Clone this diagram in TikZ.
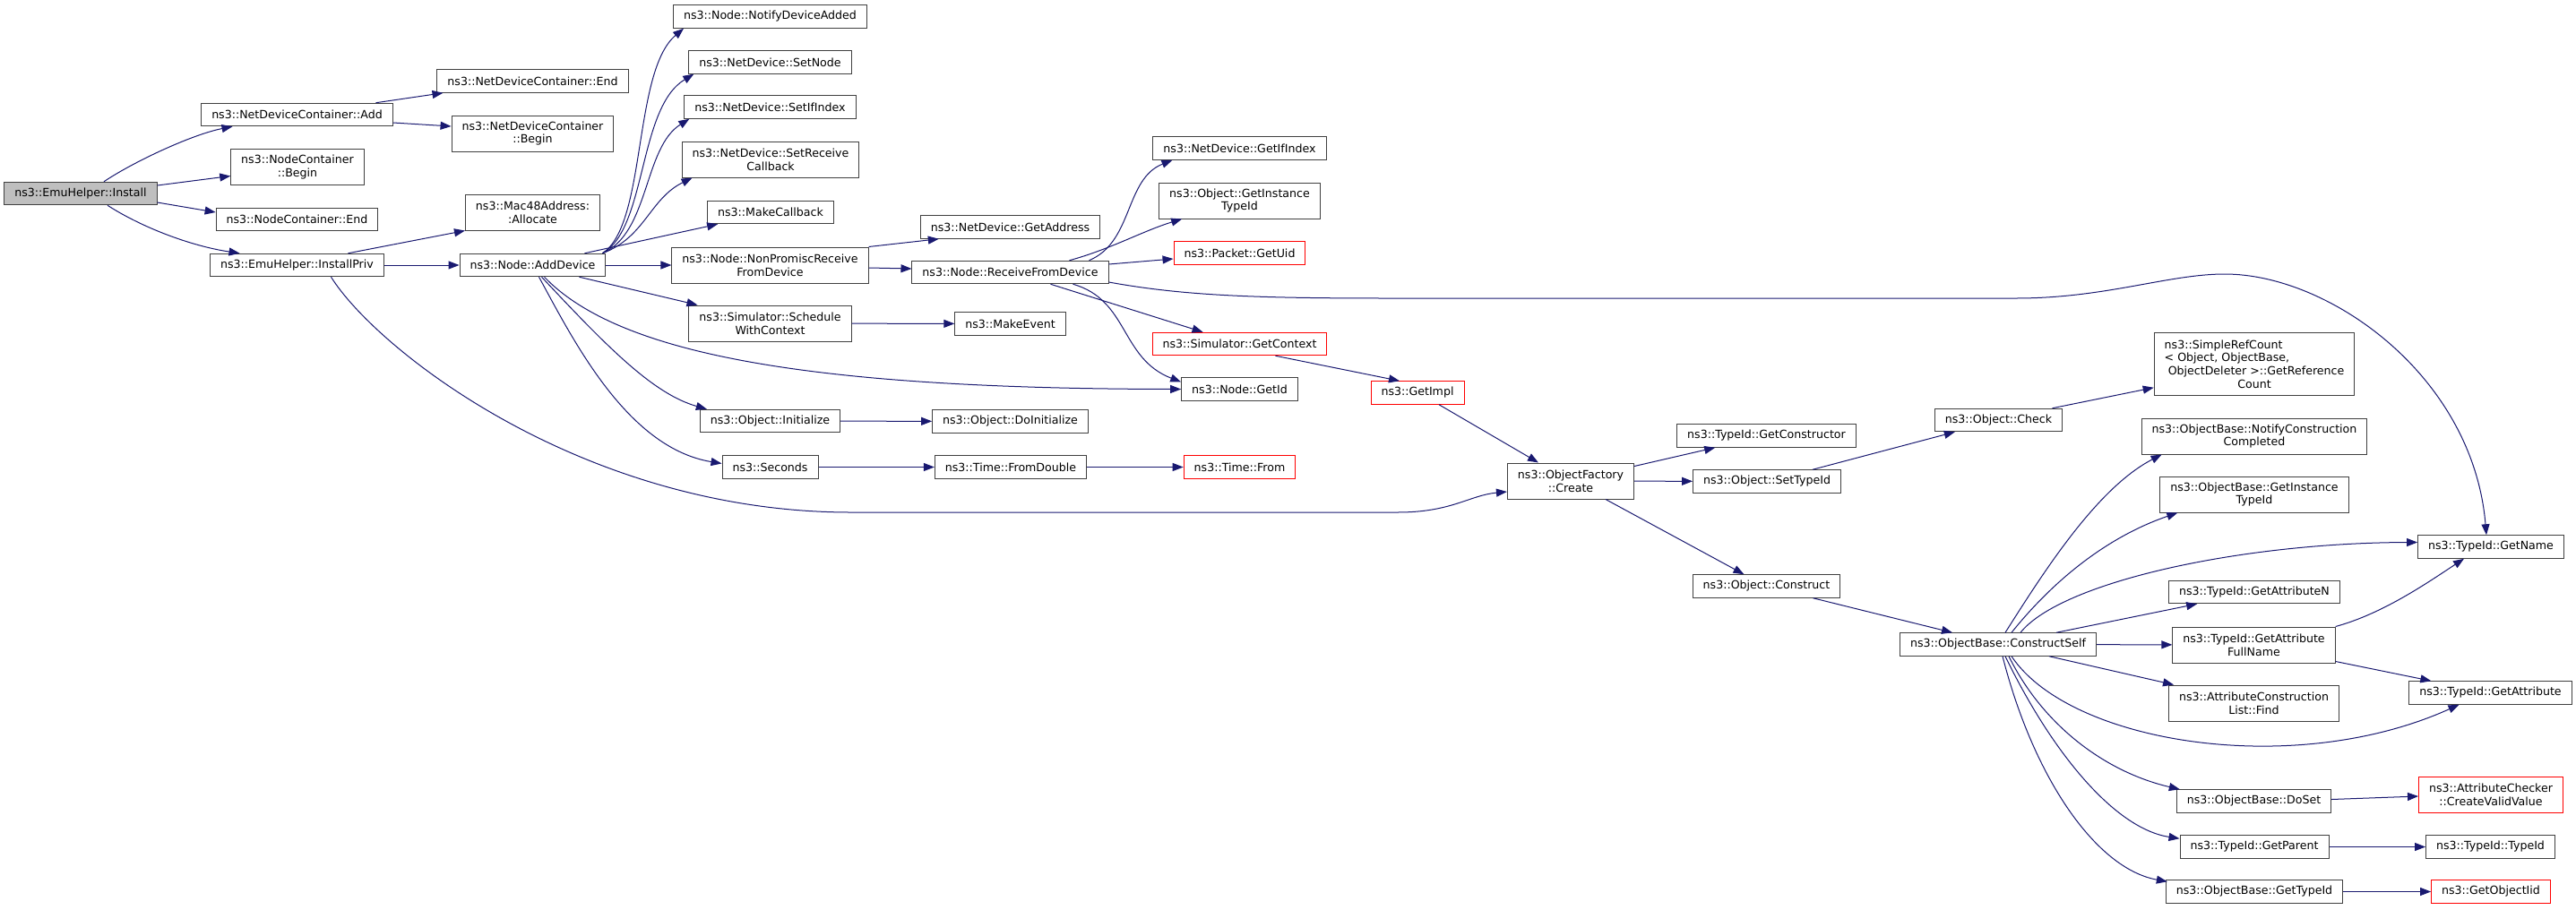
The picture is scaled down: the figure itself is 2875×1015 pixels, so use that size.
\documentclass[tikz,border=0pt]{standalone}
\usepackage{fontspec}
\setmainfont{DejaVu Sans}
\usepackage{xcolor}
\usepackage{tikz}
\usetikzlibrary{arrows.meta,calc}

\definecolor{callblue}{HTML}{191970}
\definecolor{boxline}{HTML}{404040}
\definecolor{rootgray}{HTML}{BFBFBF}
\definecolor{cutred}{HTML}{FF0000}

\begin{document}
\begin{tikzpicture}[x=1pt,y=-1pt,
    fn/.style={draw=boxline, fill=white, line width=1pt, align=center,
      inner xsep=11.5pt, inner ysep=0pt, minimum height=25.5pt,
      font=\fontsize{12.6}{14.7}\selectfont},
    tall/.style={minimum height=40pt},
    cutfn/.style={draw=cutred},
    rootfn/.style={fill=rootgray},
    call/.style={draw=callblue, line width=1pt, -{Triangle[length=12pt,width=9pt]}}]

    \useasboundingbox (0,0) rectangle (2875,1015);

    % Caller and first level
    \node[fn, rootfn] (install) at (90,216) {ns3::EmuHelper::Install};
    \node[fn] (ndcAdd) at (331.5,128) {ns3::NetDeviceContainer::Add};
    \node[fn, tall] (ncBegin) at (332,186.5) {ns3::NodeContainer\\::Begin};
    \node[fn] (ncEnd) at (331.5,245) {ns3::NodeContainer::End};
    \node[fn] (installPriv) at (331.5,296) {ns3::EmuHelper::InstallPriv};

    % Containers, address, AddDevice
    \node[fn] (ndcEnd) at (594.5,90.5) {ns3::NetDeviceContainer::End};
    \node[fn, tall] (ndcBegin) at (594.5,149) {ns3::NetDeviceContainer\\::Begin};
    \node[fn, tall] (macAlloc) at (594.5,237) {ns3::Mac48Address:\\:Allocate};
    \node[fn] (addDev) at (594.5,296) {ns3::Node::AddDevice};

    % Called from AddDevice
    \node[fn] (notify) at (859.5,18.5) {ns3::Node::NotifyDeviceAdded};
    \node[fn] (setNode) at (859.5,69.5) {ns3::NetDevice::SetNode};
    \node[fn] (setIf) at (859.5,119.5) {ns3::NetDevice::SetIfIndex};
    \node[fn, tall] (setRecv) at (860,178) {ns3::NetDevice::SetReceive\\Callback};
    \node[fn] (makeCb) at (860,237) {ns3::MakeCallback};
    \node[fn, tall] (nonPromisc) at (859.5,296) {ns3::Node::NonPromiscReceive\\FromDevice};
    \node[fn, tall] (schedule) at (859.5,361) {ns3::Simulator::Schedule\\WithContext};
    \node[fn] (init) at (859.5,470) {ns3::Object::Initialize};
    \node[fn] (seconds) at (859.5,521.5) {ns3::Seconds};

    % Next level
    \node[fn] (getAddr) at (1127.5,253.5) {ns3::NetDevice::GetAddress};
    \node[fn] (recvFrom) at (1127.5,304) {ns3::Node::ReceiveFromDevice};
    \node[fn] (makeEvent) at (1127.5,361.5) {ns3::MakeEvent};
    \node[fn] (doInit) at (1127.5,470.5) {ns3::Object::DoInitialize};
    \node[fn] (fromDouble) at (1128,521.5) {ns3::Time::FromDouble};

    % Called from ReceiveFromDevice
    \node[fn] (getIf) at (1383.5,165.5) {ns3::NetDevice::GetIfIndex};
    \node[fn, tall] (getInst) at (1383.5,224) {ns3::Object::GetInstance\\TypeId};
    \node[fn, cutfn] (getUid) at (1383.5,282.5) {ns3::Packet::GetUid};
    \node[fn, cutfn] (getCtx) at (1383.5,384) {ns3::Simulator::GetContext};
    \node[fn] (getIdN) at (1383.5,434.5) {ns3::Node::GetId};
    \node[fn, cutfn] (timeFrom) at (1383.5,521.5) {ns3::Time::From};

    % Factory
    \node[fn, cutfn] (getImpl) at (1582,438.5) {ns3::GetImpl};
    \node[fn, tall] (create) at (1753,537) {ns3::ObjectFactory\\::Create};
    \node[fn] (getCtor) at (1971.5,486.5) {ns3::TypeId::GetConstructor};
    \node[fn] (setTid) at (1972,537.5) {ns3::Object::SetTypeId};
    \node[fn] (construct) at (1971.5,654.5) {ns3::Object::Construct};
    \node[fn] (check) at (2230.5,469) {ns3::Object::Check};
    \node[fn] (constructSelf) at (2230,719.5) {ns3::ObjectBase::ConstructSelf};

    % Called from ConstructSelf
    \node[fn, minimum height=69.5pt] (simpleRef) at (2516,406.5)
      {\rlap{ns3::SimpleRefCount}\phantom{\ ObjectDeleter >::GetReference}\\
       \rlap{< Object, ObjectBase,}\phantom{\ ObjectDeleter >::GetReference}\\
       \hspace*{0.32em}ObjectDeleter >::GetReference\\Count};
    \node[fn, tall] (notifyCons) at (2516,487) {ns3::ObjectBase::NotifyConstruction\\Completed};
    \node[fn, tall] (obGetInst) at (2516,552) {ns3::ObjectBase::GetInstance\\TypeId};
    \node[fn] (getAttrN) at (2516,661) {ns3::TypeId::GetAttributeN};
    \node[fn, tall] (attrFull) at (2515.5,720) {ns3::TypeId::GetAttribute\\FullName};
    \node[fn, tall] (listFind) at (2515.5,785) {ns3::AttributeConstruction\\List::Find};
    \node[fn] (doSet) at (2515.5,894.5) {ns3::ObjectBase::DoSet};
    \node[fn] (getParent) at (2516,945.5) {ns3::TypeId::GetParent};
    \node[fn] (getTid) at (2516,995.5) {ns3::ObjectBase::GetTypeId};

    % Last column
    \node[fn] (getName) at (2780,610.5) {ns3::TypeId::GetName};
    \node[fn] (getAttr) at (2779.5,773.5) {ns3::TypeId::GetAttribute};
    \node[fn, tall, cutfn] (createValid) at (2780,887) {ns3::AttributeChecker\\::CreateValidValue};
    \node[fn] (tidTid) at (2779.5,945.5) {ns3::TypeId::TypeId};
    \node[fn, cutfn] (getIid) at (2780,995.5) {ns3::GetObjectIid};

    % Calls from Install
    \draw[call] ($(install.north)+(26,0)$) .. controls (150,180) and (215,150) .. ($(ndcAdd.south)+(-72,0)$);
    \draw[call] ($(install.east)+(0,-9)$) -- ($(ncBegin.west)+(0,10)$);
    \draw[call] ($(install.east)+(0,10)$) -- ($(ncEnd.west)+(0,-8)$);
    \draw[call] ($(install.south)+(30,0)$) .. controls (160,255) and (215,275) .. ($(installPriv.north)+(-64,0)$);
    \draw[call] ($(ndcAdd.north)+(88,0)$) -- ($(ndcEnd.south)+(-100,0)$);
    \draw[call] ($(ndcAdd.east)+(0,9)$) -- ($(ndcBegin.west)+(0,-8)$);

    % Calls from InstallPriv
    \draw[call] ($(installPriv.north)+(57,0)$) -- (macAlloc.south west);
    \draw[call] (installPriv) -- (addDev);
    \draw[call] ($(installPriv.south)+(38,0)$) .. controls (420,390) and (650,572) .. (950,572)
      -- (1560,572) .. controls (1620,572) and (1640,553) .. ($(create.west)+(0,12)$);

    % Calls from AddDevice
    \draw[call] ($(addDev.north east)+(-4,0)$) .. controls (722,250) and (706,80) .. ($(notify.south west)+(12,0)$);
    \draw[call] ($(addDev.north east)+(-4,0)$) .. controls (722,255) and (712,120) .. ($(setNode.south west)+(6,0)$);
    \draw[call] ($(addDev.north east)+(-4,0)$) .. controls (725,260) and (718,165) .. ($(setIf.south west)+(6,0)$);
    \draw[call] ($(addDev.north east)+(-4,0)$) .. controls (720,265) and (725,222) .. ($(setRecv.south west)+(12,0)$);
    \draw[call] ($(addDev.north)+(58,0)$) -- ($(makeCb.south west)+(12,0)$);
    \draw[call] (addDev) -- (nonPromisc);
    \draw[call] ($(addDev.south)+(52,0)$) -- ($(schedule.north west)+(10,0)$);
    \draw[call] ($(addDev.south)+(13,0)$) .. controls (690,395) and (900,434) .. (getIdN.west);
    \draw[call] ($(addDev.south)+(10,0)$) .. controls (680,390) and (730,440) .. ($(init.north west)+(8,0)$);
    \draw[call] ($(addDev.south)+(7,0)$) .. controls (640,380) and (700,500) .. ($(seconds.west)+(0,-4)$);

    \draw[call] (nonPromisc.north east) -- ($(getAddr.south west)+(21,0)$);
    \draw[call] ($(nonPromisc.east)+(0,3)$) -- ($(recvFrom.west)+(0,-4)$);
    \draw[call] (schedule) -- (makeEvent);
    \draw[call] (init) -- (doInit);
    \draw[call] (seconds) -- (fromDouble);
    \draw[call] (fromDouble) -- (timeFrom);

    % Calls from ReceiveFromDevice
    \draw[call] ($(recvFrom.north)+(88,0)$) .. controls (1265,270) and (1255,200) .. ($(getIf.south west)+(22,0)$);
    \draw[call] ($(recvFrom.north)+(66,0)$) .. controls (1240,278) and (1275,258) .. ($(getInst.south west)+(26,0)$);
    \draw[call] ($(recvFrom.east)+(0,-9)$) -- ($(getUid.west)+(0,6.5)$);
    \draw[call] ($(recvFrom.east)+(0,11)$) .. controls (1320,330) and (1400,333) .. (1550,333)
      -- (2250,333) .. controls (2350,333) and (2420,306) .. (2483,306)
      .. controls (2600,306) and (2760,420) .. ($(getName.north)+(-5,0)$);
    \draw[call] ($(recvFrom.south)+(45,0)$) -- ($(getCtx.north west)+(57,0)$);
    \draw[call] ($(recvFrom.south)+(70,0)$) .. controls (1260,335) and (1250,400) .. ($(getIdN.west)+(0,-8)$);

    % Object creation
    \draw[call] ($(getCtx.south)+(40,0)$) -- ($(getImpl.north)+(-20,0)$);
    \draw[call] ($(getImpl.south)+(24,0)$) -- ($(create.north)+(-36,0)$);
    \draw[call] ($(create.north east)+(0,4)$) -- ($(getCtor.south west)+(43,0)$);
    \draw[call] (create) -- (setTid);
    \draw[call] ($(create.south)+(39,0)$) -- ($(construct.north)+(-25,0)$);
    \draw[call] ($(setTid.north)+(51,0)$) -- ($(check.south west)+(23,0)$);
    \draw[call] ($(check.north)+(60,0)$) -- ($(simpleRef.south west)+(0,-9)$);
    \draw[call] ($(construct.south)+(52,0)$) -- ($(constructSelf.north)+(-51,0)$);

    % Calls from ConstructSelf
    \draw[call] ($(constructSelf.north)+(8,0)$) .. controls (2280,640) and (2340,545) .. ($(notifyCons.south west)+(23,0)$);
    \draw[call] ($(constructSelf.north)+(15,0)$) .. controls (2290,650) and (2350,600) .. ($(obGetInst.south west)+(20,0)$);
    \draw[call] ($(constructSelf.north)+(25,0)$) .. controls (2300,650) and (2500,606) .. ($(getName.west)+(0,-5)$);
    \draw[call] ($(constructSelf.north)+(65,0)$) -- ($(getAttrN.south west)+(32,0)$);
    \draw[call] (constructSelf) -- (attrFull);
    \draw[call] ($(constructSelf.south)+(57,0)$) -- ($(listFind.north west)+(6,0)$);
    \draw[call] ($(constructSelf.south)+(15,0)$) .. controls (2310,830) and (2560,870) .. ($(getAttr.south)+(-35,0)$);
    \draw[call] ($(constructSelf.south)+(12,0)$) .. controls (2280,810) and (2350,862) .. ($(doSet.north west)+(4,0)$);
    \draw[call] ($(constructSelf.south)+(8,0)$) .. controls (2290,840) and (2360,925) .. ($(getParent.north west)+(0,4)$);
    \draw[call] ($(constructSelf.south)+(5,0)$) .. controls (2270,870) and (2340,970) .. ($(getTid.north west)+(2,2)$);

    % Right column
    \draw[call] (attrFull.north east) .. controls (2660,685) and (2710,650) .. ($(getName.south)+(-30,0)$);
    \draw[call] ($(attrFull.south east)+(0,-2)$) -- ($(getAttr.north west)+(25,0)$);
    \draw[call] ($(doSet.east)+(0,-2)$) -- ($(createValid.west)+(0,2)$);
    \draw[call] (getParent) -- (tidTid);
    \draw[call] (getTid) -- (getIid);
\end{tikzpicture}
\end{document}
